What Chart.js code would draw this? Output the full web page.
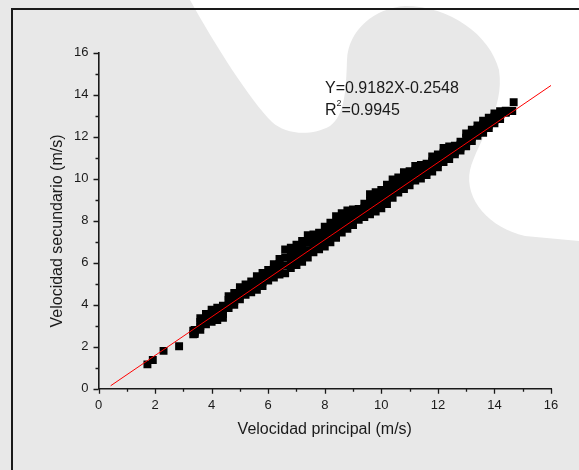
<!DOCTYPE html>
<html>
<head>
<meta charset="utf-8">
<script src="https://cdn.jsdelivr.net/npm/chart.js@4.4.1/dist/chart.umd.min.js"></script>
<style>
  html, body { margin: 0; padding: 0; background: #e8e8e8; }
  #wrap { width: 579px; height: 470px; }
</style>
</head>
<body>
<div id="wrap"><canvas id="chart1" width="579" height="470"></canvas></div>
<script>
// columnas de la nube (velocidad principal) y filas
const bandX = [3.4, 3.6, 3.8, 4.0, 4.2, 4.4, 4.6, 4.8, 5.0, 5.2, 5.4, 5.6, 5.8, 6.0,
  6.2, 6.4, 6.6, 6.8, 7.0, 7.2, 7.4, 7.6, 7.8, 8.0, 8.2, 8.4, 8.6, 8.8, 9.0, 9.2,
  9.4, 9.6, 9.8, 10.0, 10.2, 10.4, 10.6, 10.8, 11.0, 11.2, 11.4, 11.6, 11.8, 12.0,
  12.2, 12.4, 12.6, 12.8, 13.0, 13.2, 13.4, 13.6, 13.8, 14.0, 14.2, 14.4];
const bandTop = [2.80, 3.36, 3.56, 3.76, 3.86, 3.95, 4.41, 4.56, 4.83, 4.96, 5.11, 5.36,
  5.51, 5.66, 5.93, 6.18, 6.63, 6.71, 6.86, 7.03, 7.31, 7.35, 7.43, 7.71, 7.91, 8.21,
  8.36, 8.49, 8.53, 8.56, 8.81, 9.26, 9.36, 9.46, 9.71, 9.96, 10.06, 10.31, 10.36,
  10.61, 10.66, 10.71, 11.06, 11.16, 11.46, 11.53, 11.57, 11.76, 12.16, 12.33, 12.53,
  12.76, 12.91, 13.11, 13.21, 13.24];
const bandMidA = [2.72, 3.18, 3.40, 3.57, 3.66, 3.76, 4.22, 4.37, 4.64, 4.79, 4.94, 5.15,
  5.31, 5.48, 5.72, 5.94, 6.25, 6.40, 6.55, 6.70, 6.95, 7.07, 7.17, 7.40, 7.60, 7.87,
  8.05, 8.20, 8.29, 8.38, 8.60, 8.94, 9.05, 9.17, 9.40, 9.67, 9.82, 10.05, 10.14,
  10.38, 10.44, 10.53, 10.82, 10.96, 11.24, 11.33, 11.43, 11.62, 11.95, 12.15, 12.37,
  12.57, 12.74, 12.95, 13.08, 13.20];
const bandMidB = [2.66, 2.98, 3.22, 3.37, 3.46, 3.56, 4.02, 4.17, 4.44, 4.62, 4.75, 4.91,
  5.09, 5.32, 5.50, 5.66, 5.87, 6.05, 6.20, 6.37, 6.60, 6.78, 6.90, 7.08, 7.28, 7.53,
  7.75, 7.90, 8.04, 8.22, 8.38, 8.62, 8.75, 8.88, 9.10, 9.38, 9.55, 9.80, 9.90,
  10.14, 10.22, 10.34, 10.58, 10.74, 11.00, 11.12, 11.28, 11.48, 11.74, 11.97, 12.19,
  12.37, 12.57, 12.80, 12.95, 13.18];
const bandBottom = [2.60, 2.80, 3.07, 3.19, 3.27, 3.38, 3.84, 3.99, 4.26, 4.47, 4.59, 4.71,
  4.89, 5.15, 5.29, 5.44, 5.49, 5.74, 5.89, 6.04, 6.24, 6.49, 6.64, 6.77, 6.97, 7.19,
  7.44, 7.61, 7.79, 8.04, 8.17, 8.31, 8.44, 8.59, 8.79, 9.09, 9.34, 9.51, 9.69,
  9.91, 10.01, 10.17, 10.34, 10.54, 10.79, 10.94, 11.16, 11.34, 11.54, 11.79, 12.04,
  12.19, 12.41, 12.64, 12.84, 13.14];
// puntos sueltos en los extremos
const looseX = [1.73, 1.92, 2.30, 2.85, 3.35, 3.35, 14.63, 14.68];
const looseY = [1.16, 1.37, 1.80, 2.02, 2.76, 2.59, 13.22, 13.64];
// recta de ajuste (extremos leídos)
const fitX = [0.43, 16];
const fitY = [0.14, 14.44];
const fitText = "Y=0.9182X-0.2548";
const r2Text = "=0.9945";
const axisMin = 0;
const axisMax = 16;
const xTitle = "Velocidad principal (m/s)";
const yTitle = "Velocidad secundario (m/s)";

const fontFamily = "Arial, 'Liberation Sans', sans-serif";
const ink = "#1a1a1a";

const points = [];
bandX.forEach((x, i) => {
  [bandTop, bandMidA, bandMidB, bandBottom].forEach((row) => points.push({ x: x, y: row[i] }));
});
looseX.forEach((x, i) => points.push({ x: x, y: looseY[i] }));

const fitLine = fitX.map((x, i) => ({ x: x, y: fitY[i] }));

// fondo gris con la mancha blanca y el marco
const backdrop = {
  id: "backdrop",
  beforeDraw(chart) {
    const c = chart.ctx;
    c.save();
    c.fillStyle = "#e8e8e8";
    c.fillRect(0, 0, chart.width, chart.height);
    c.fillStyle = "#ffffff";
    c.beginPath();
    c.moveTo(190, 0);
    c.bezierCurveTo(215, 45, 250, 100, 272, 122);
    c.bezierCurveTo(285, 134, 310, 137, 330, 126);
    c.bezierCurveTo(345, 115, 346, 90, 347, 60);
    c.bezierCurveTo(348, 30, 375, 8, 405, 6);
    c.bezierCurveTo(450, 6, 490, 35, 499, 70);
    c.bezierCurveTo(505, 110, 478, 140, 470, 170);
    c.bezierCurveTo(464, 200, 490, 228, 525, 236);
    c.lineTo(579, 241);
    c.lineTo(579, 0);
    c.closePath();
    c.fill();
    c.strokeStyle = "#1a1a1a";
    c.lineWidth = 2;
    c.beginPath();
    c.moveTo(12, 470);
    c.lineTo(12, 9);
    c.lineTo(579, 9);
    c.stroke();
    c.restore();
  },
  afterDraw(chart) {
    const c = chart.ctx;
    const xs = chart.scales.x;
    const ys = chart.scales.y;
    const area = chart.chartArea;
    c.save();
    // marcas de los ejes (mayores en pares, menores en impares)
    c.strokeStyle = ink;
    c.lineWidth = 1.3;
    c.beginPath();
    xs.ticks.forEach((t) => {
      const p = Math.round(xs.getPixelForValue(t.value)) + 0.5;
      const len = t.value % 2 === 0 ? 5 : 3;
      c.moveTo(p, area.bottom);
      c.lineTo(p, area.bottom + len);
    });
    ys.ticks.forEach((t) => {
      const p = Math.round(ys.getPixelForValue(t.value)) + 0.5;
      const len = t.value % 2 === 0 ? 5 : 3;
      c.moveTo(area.left, p);
      c.lineTo(area.left - len, p);
    });
    c.stroke();
    // título del eje vertical
    c.fillStyle = ink;
    c.font = "16px " + fontFamily;
    c.textAlign = "center";
    c.textBaseline = "middle";
    c.translate(58, 231);
    c.rotate(-Math.PI / 2);
    c.fillText(yTitle, 0, 0);
    c.restore();
    // ecuación del ajuste
    c.save();
    c.fillStyle = ink;
    c.textAlign = "left";
    c.textBaseline = "alphabetic";
    c.font = "16px " + fontFamily;
    c.fillText(fitText, 325, 93);
    c.fillText("R", 325, 115);
    const rw = c.measureText("R").width;
    c.font = "9px " + fontFamily;
    c.fillText("2", 325 + rw, 106);
    const sw = c.measureText("2").width;
    c.font = "16px " + fontFamily;
    c.fillText(r2Text, 325 + rw + sw, 115);
    c.restore();
  },
};

const ctx = document.getElementById("chart1");

const chart = new Chart(ctx, {
  type: "scatter",
  data: {
    datasets: [
      {
        type: "line",
        label: "ajuste",
        data: fitLine,
        borderColor: "#ff0000",
        borderWidth: 1,
        pointRadius: 0,
        fill: false,
        order: 0,
      },
      {
        label: "velocidades",
        data: points,
        backgroundColor: "#000000",
        borderWidth: 0,
        pointStyle: "rect",
        pointRadius: 5.6,
        order: 1,
      },
    ],
  },
  options: {
    responsive: false,
    animation: false,
    events: [],
    layout: { padding: { top: 52.7, right: 28, bottom: 0, left: 0 } },
    plugins: {
      legend: { display: false },
      tooltip: { enabled: false },
    },
    scales: {
      x: {
        type: "linear",
        min: axisMin,
        max: axisMax,
        afterFit: (scale) => { scale.height = 81.3; },
        grid: { display: false, drawTicks: true, tickLength: 5 },
        border: { display: true, color: ink, width: 1.6 },
        ticks: {
          stepSize: 1,
          padding: 4,
          maxRotation: 0,
          autoSkip: false,
          color: ink,
          font: { family: fontFamily, size: 13 },
          callback: (v) => (v % 2 === 0 ? v : ""),
        },
        title: {
          display: true,
          text: xTitle,
          color: ink,
          font: { family: fontFamily, size: 16 },
          padding: { top: 0, bottom: 31 },
        },
      },
      y: {
        type: "linear",
        min: axisMin,
        max: axisMax,
        afterFit: (scale) => { scale.width = 98.5; },
        grid: { display: false, drawTicks: true, tickLength: 5 },
        border: { display: true, color: ink, width: 1.6 },
        ticks: {
          stepSize: 1,
          padding: 5,
          autoSkip: false,
          color: ink,
          font: { family: fontFamily, size: 13 },
          callback: (v) => (v % 2 === 0 ? v : ""),
        },
      },
    },
  },
  plugins: [backdrop],
});
</script>
</body>
</html>
